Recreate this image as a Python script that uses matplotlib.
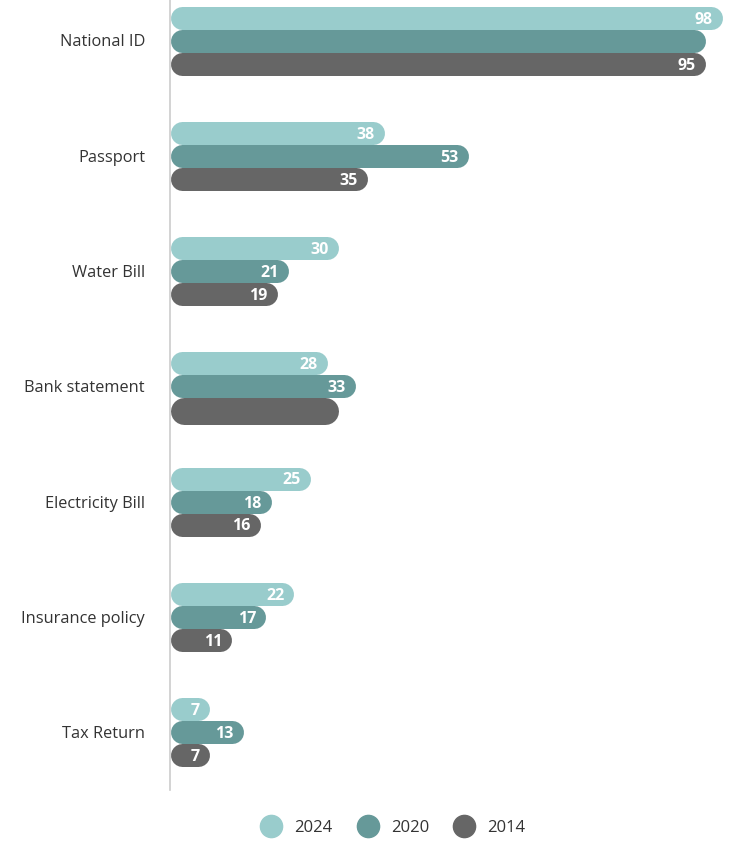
import matplotlib.pyplot as plt
from matplotlib.lines import Line2D

plt.rcParams['font.family'] = ['Open Sans', 'DejaVu Sans']

categories = ['National ID', 'Passport', 'Water Bill', 'Bank statement',
              'Electricity Bill', 'Insurance policy', 'Tax Return']
years = ['2024', '2020', '2014']
vals_2024 = [98, 38, 30, 28, 25, 22, 7]
vals_2020 = [95, 53, 21, 33, 18, 17, 13]
vals_2014 = [95, 35, 19, 30, 16, 11, 7]
# bars drawn without a value label (category, series)
no_label = [(0, 1), (3, 2)]
colors = ['#99cccc', '#669999', '#666666']

W, H, DPI = 738, 842, 100
fig = plt.figure(figsize=(W / DPI, H / DPI), dpi=DPI)
left_px, right_px, top_px, bot_px = 170, 738, 0, 790
ax = fig.add_axes([left_px / W, 1 - bot_px / H, (right_px - left_px) / W, (bot_px - top_px) / H])

px_per_unit = (722 - 170) / 98.0
ax.set_xlim(0, (right_px - left_px) / px_per_unit)
spacing = 115.25
ax.set_ylim((bot_px - 40.5) / spacing, (top_px - 40.5) / spacing)

bar_px = 23
offsets = [-bar_px / spacing, 0, bar_px / spacing]
series = [vals_2024, vals_2020, vals_2014]

for s, vals in enumerate(series):
    for i, v in enumerate(vals):
        h = bar_px
        if (i, s) == (3, 2):
            h = 27
        r = h / 2 / px_per_unit
        y = i + offsets[s] + (2 / spacing if h > bar_px else 0)
        ax.plot([r, v - r], [y, y], color=colors[s], lw=h * 72 / DPI,
                solid_capstyle='round', zorder=2 + s)
        if (i, s) not in no_label:
            ax.annotate(str(v), (v, y), xytext=(-7, 0), textcoords='offset points',
                        ha='right', va='center_baseline', color='white', fontsize=11.5,
                        fontweight='bold', zorder=10)

ax.set_yticks(range(len(categories)))
ax.set_yticklabels(categories, fontsize=11.8, color='#333333')
ax.tick_params(axis='y', length=0, pad=18)
ax.set_xticks([])
for side in ['top', 'right', 'bottom']:
    ax.spines[side].set_visible(False)
ax.spines['left'].set_color('#cccccc')
ax.spines['left'].set_linewidth(1.2)

handles = [Line2D([], [], ls='none', marker='o', markersize=16, color=c) for c in colors]
fig.legend(handles, years, loc='center', bbox_to_anchor=(390 / W, 1 - 828 / H), ncol=3,
           frameon=False, fontsize=12, handletextpad=0.4, columnspacing=1.1,
           labelcolor='#333333')

fig.savefig('out.png', dpi=DPI)
